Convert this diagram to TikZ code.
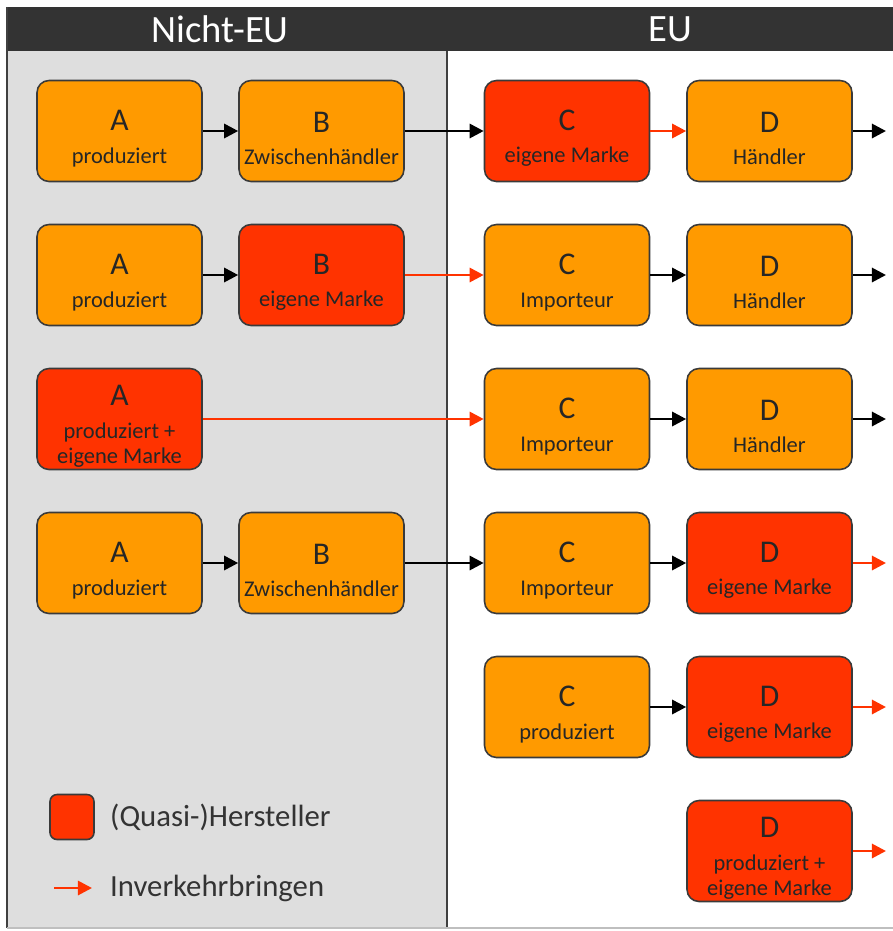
\documentclass[tikz,border=0pt]{standalone}
\usepackage{fontspec}
\setmainfont{Carlito}
\usetikzlibrary{arrows.meta}
\definecolor{orangebox}{HTML}{FF9A00}
\definecolor{redbox}{HTML}{FF3300}
\definecolor{boxline}{HTML}{3A3A3A}
\definecolor{headbar}{HTML}{333333}
\definecolor{panelgrey}{HTML}{DEDEDE}
\newcommand{\lettr}[1]{{\fontsize{18}{20}\selectfont\rule{0pt}{20pt}#1}\\[4pt]}
\tikzstyle{box_orange} = [rectangle, rounded corners=0.24cm, minimum width=3.3cm, minimum height=2.02cm, inner sep=1pt, text centered, align=center, draw=boxline, line width=0.9pt, fill=orangebox, text=black!85, font=\fontsize{12.8}{14.5}\selectfont]
\tikzstyle{box_red} = [box_orange, fill=redbox]
\tikzstyle{arrow} = [line width=1.6pt,->,>={Triangle[length=8pt,width=8pt]}, black]
\tikzstyle{arrow_red} = [arrow, redbox]
\tikzstyle{heading} = [text=white, font=\fontsize{22}{26}\selectfont]
\tikzstyle{legend} = [anchor=west, text=black!80, font=\fontsize{17.5}{20}\selectfont]

\begin{document}
\begin{tikzpicture}[x=0.02cm, y=-0.02cm]
		\useasboundingbox (0,0) rectangle (893,931);
		% panels
		\fill[white] (0,0) rectangle (893,931);
		\fill[panelgrey] (7,50) rectangle (447,928);
		\fill[headbar] (7,7) rectangle (893,51);
		\draw[black!75, line width=1pt] (7,7) -- (7,928);
		\draw[black!75, line width=1pt] (447,51) -- (447,928);
		\draw[black!25, line width=1pt] (7,928) -- (893,928);
		\node (nicht_eu) [heading] at (220,29) {Nicht-EU};
		\node (eu) [heading] at (670,29) {EU};
		
		% row 1
		\node (a1) [box_orange] at (119.5,131) {\lettr{A}produziert};
		\node (b1) [box_orange] at (321.5,131) {\lettr{B}Zwischenhändler};
		\node (c1) [box_red] at (567,131) {\lettr{C}eigene Marke};
		\node (d1) [box_orange] at (769.5,131) {\lettr{D}Händler};
		\coordinate (out1) at (886,131);
		% row 2
		\node (a2) [box_orange] at (119.5,275) {\lettr{A}produziert};
		\node (b2) [box_red] at (321.5,275) {\lettr{B}eigene Marke};
		\node (c2) [box_orange] at (567,275) {\lettr{C}Importeur};
		\node (d2) [box_orange] at (769.5,275) {\lettr{D}Händler};
		\coordinate (out2) at (886,275);
		% row 3
		\node (a3) [box_red] at (119.5,419) {\lettr{A}produziert +\\eigene Marke};
		\node (c3) [box_orange] at (567,419) {\lettr{C}Importeur};
		\node (d3) [box_orange] at (769.5,419) {\lettr{D}Händler};
		\coordinate (out3) at (886,419);
		% row 4
		\node (a4) [box_orange] at (119.5,563) {\lettr{A}produziert};
		\node (b4) [box_orange] at (321.5,563) {\lettr{B}Zwischenhändler};
		\node (c4) [box_orange] at (567,563) {\lettr{C}Importeur};
		\node (d4) [box_red] at (769.5,563) {\lettr{D}eigene Marke};
		\coordinate (out4) at (886,563);
		% row 5
		\node (c5) [box_orange] at (567,707) {\lettr{C}produziert};
		\node (d5) [box_red] at (769.5,707) {\lettr{D}eigene Marke};
		\coordinate (out5) at (886,707);
		% row 6
		\node (d6) [box_red] at (769.5,851) {\lettr{D}produziert +\\eigene Marke};
		\coordinate (out6) at (886,851);
		
		\draw [arrow] (a1) -- (b1);
		\draw [arrow] (b1) -- (c1);
		\draw [arrow_red] (c1) -- (d1);
		\draw [arrow] (d1) -- (out1);
		\draw [arrow] (a2) -- (b2);
		\draw [arrow_red] (b2) -- (c2);
		\draw [arrow] (c2) -- (d2);
		\draw [arrow] (d2) -- (out2);
		\draw [arrow_red] (a3) -- (c3);
		\draw [arrow] (c3) -- (d3);
		\draw [arrow] (d3) -- (out3);
		\draw [arrow] (a4) -- (b4);
		\draw [arrow] (b4) -- (c4);
		\draw [arrow] (c4) -- (d4);
		\draw [arrow_red] (d4) -- (out4);
		\draw [arrow] (c5) -- (d5);
		\draw [arrow_red] (d5) -- (out5);
		\draw [arrow_red] (d6) -- (out6);
		
		% legend
		\node (key_box) [box_red, minimum width=0.88cm, minimum height=0.9cm, rounded corners=0.14cm] at (72,817) {};
		\node (key_box_text) [legend] at (104,817) {(Quasi-)Hersteller};
		\coordinate (key_start) at (54,888);
		\coordinate (key_end) at (92,888);
		\draw [arrow_red] (key_start) -- (key_end);
		\node (key_arrow_text) [legend] at (104,888) {Inverkehrbringen};
\end{tikzpicture}
\end{document}
